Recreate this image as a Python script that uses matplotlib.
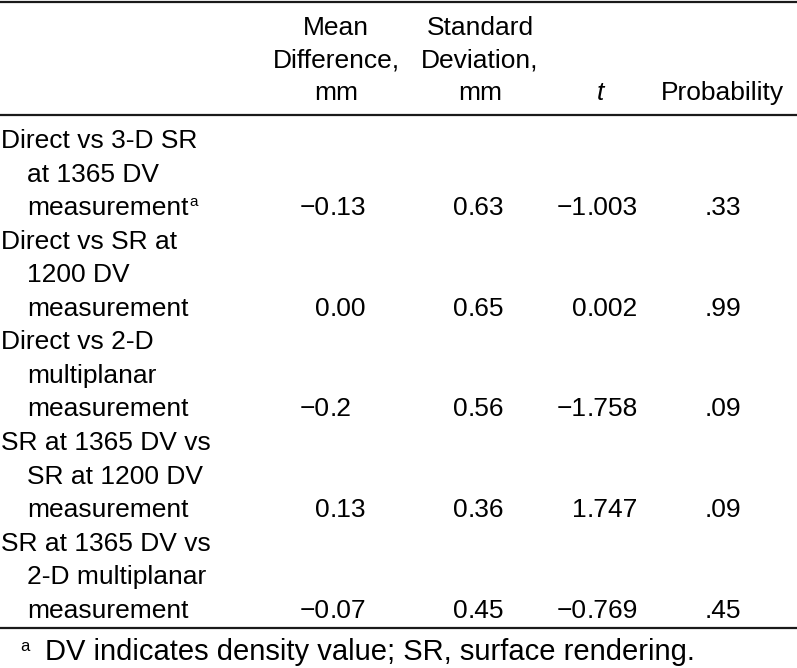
import matplotlib.pyplot as plt

plt.rcParams['font.family'] = ['Liberation Sans', 'DejaVu Sans']

# Table content
col_headers = [["Mean", "Difference,", "mm"],
               ["Standard", "Deviation,", "mm"],
               ["", "", "t"],
               ["", "", "Probability"]]
row_labels = [["Direct vs 3-D SR", "at 1365 DV", "measurement"],
              ["Direct vs SR at", "1200 DV", "measurement"],
              ["Direct vs 2-D", "multiplanar", "measurement"],
              ["SR at 1365 DV vs", "SR at 1200 DV", "measurement"],
              ["SR at 1365 DV vs", "2-D multiplanar", "measurement"]]
mean_diff = ["\u22120.13", "0.00", "\u22120.2", "0.13", "\u22120.07"]
std_dev = ["0.63", "0.65", "0.56", "0.36", "0.45"]
t_values = ["\u22121.003", "0.002", "\u22121.758", "1.747", "\u22120.769"]
probability = [".33", ".99", ".09", ".09", ".45"]
footnote = "DV indicates density value; SR, surface rendering."

W, H = 797, 668
fig = plt.figure(figsize=(W / 100, H / 100), dpi=100)
ax = fig.add_axes([0, 0, 1, 1])
ax.set_xlim(0, W)
ax.set_ylim(H, 0)
ax.axis('off')

fs = 19
line_h = 33.55
rule_color = '#1a1a1a'

# horizontal rules
for y in (2, 115, 628):
    ax.axhline(y, color=rule_color, linewidth=1.6)

# header
head_x = [336, 480, 600, 722]
head_y = [35, 67.5, 100]
for cx, lines in zip(head_x, col_headers):
    for y, s in zip(head_y, lines):
        if not s:
            continue
        style = 'italic' if s == 't' else 'normal'
        ax.text(cx, y, s, fontsize=fs, ha='center', va='baseline', style=style)


def dec_text(x, y, s):
    # decimal-aligned number: integer part right of x, fraction left of x
    i = s.index('.')
    ax.text(x, y, s[:i], fontsize=fs, ha='right', va='baseline')
    ax.text(x, y, s[i:], fontsize=fs, ha='left', va='baseline')


dec_x = [330, 468, 587, 705]
base0 = 148
renderer = fig.canvas.get_renderer()
for r, lines in enumerate(row_labels):
    for k, s in enumerate(lines):
        y = base0 + (3 * r + k) * line_h
        x = 1 if k == 0 else 27
        t = ax.text(x, y, s, fontsize=fs, ha='left', va='baseline')
        if r == 0 and k == 2:
            bb = t.get_window_extent(renderer)
            x_end = ax.transData.inverted().transform((bb.x1, bb.y0))[0]
            ax.text(x_end + 1, y - 9, "a", fontsize=11, ha='left', va='baseline')
    yv = base0 + (3 * r + 2) * line_h
    for cx, vals in zip(dec_x, [mean_diff, std_dev, t_values, probability]):
        dec_text(cx, yv, vals[r])

# footnote
ax.text(20, 651, "a", fontsize=12, ha='left', va='baseline')
ax.text(45, 660, footnote, fontsize=21, ha='left', va='baseline')

fig.savefig('out.png', dpi=100)
